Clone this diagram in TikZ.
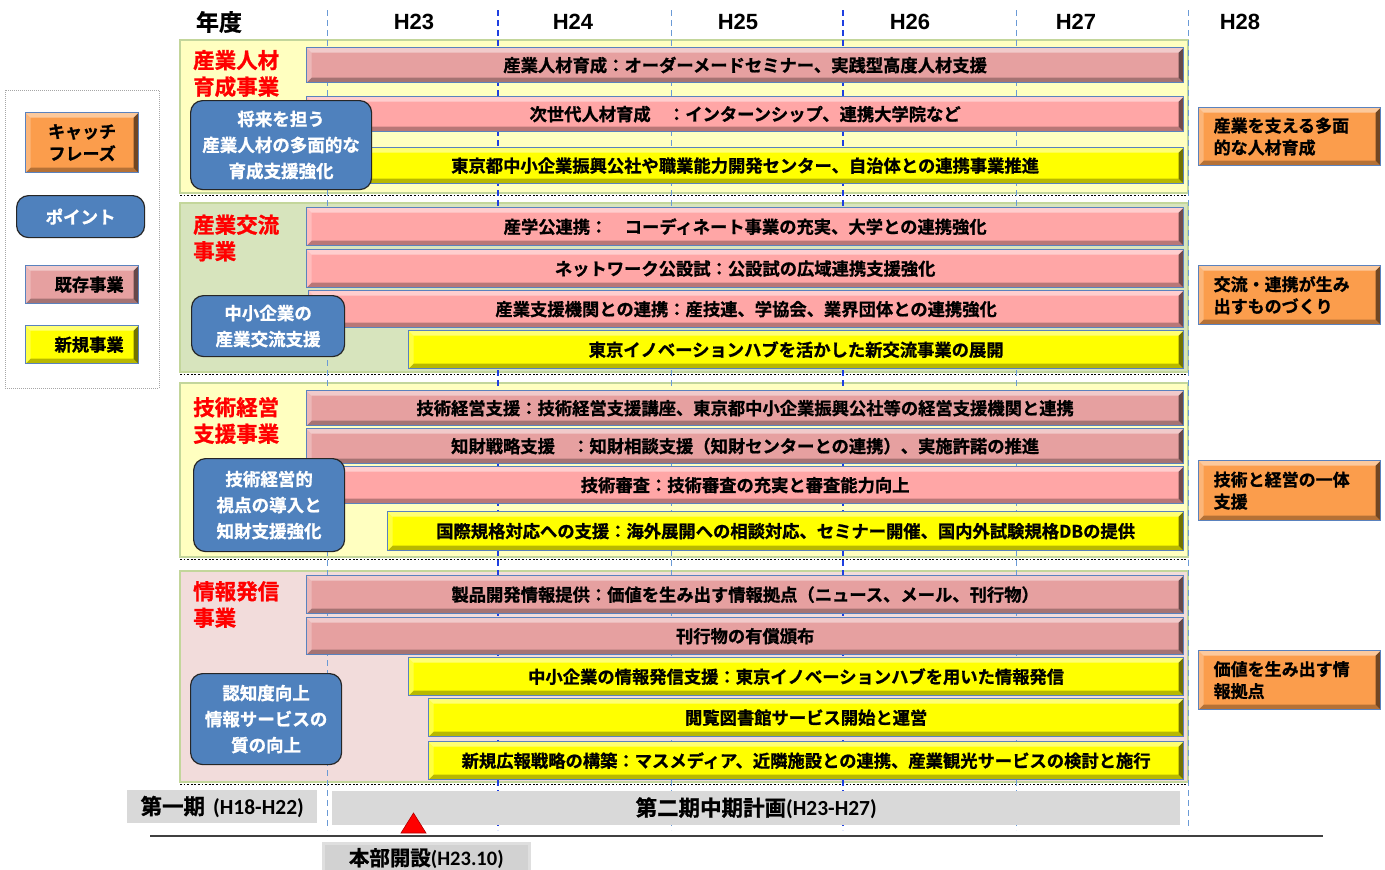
\documentclass[tikz,border=0pt]{standalone}
\usepackage{fontspec}
\newfontfamily\jp{Noto Sans CJK JP}[BoldFont={Noto Sans CJK JP Bold}, BoldFeatures={FakeBold=1}]
\newfontfamily\arfont{Liberation Sans}
\newfontfamily\calfont{Carlito}
\usetikzlibrary{calc}
\definecolor{pinkD}{HTML}{E6A0A0}
\definecolor{pinkL}{HTML}{FFA6A6}
\definecolor{yel}{HTML}{FFFF00}
\definecolor{barblue}{HTML}{5A82BE}
\definecolor{ptblue}{HTML}{4F81BD}
\definecolor{orng}{HTML}{FB9D4C}
\definecolor{panY}{HTML}{FFFFC0}
\definecolor{panG}{HTML}{D7E4BD}
\definecolor{panP}{HTML}{F2DCDB}
\definecolor{panEdge}{HTML}{C3D69B}
\definecolor{gridL}{HTML}{6A9AD6}
\definecolor{gridD}{HTML}{1F3FE0}
\definecolor{grayB}{HTML}{D9D9D9}
\newcommand\barnode[7]{\node[#6, minimum width={(#4-#2)*1pt}, minimum height={(#5-#3)*1pt}] (#1) at (#2,#3) {#7};}
\tikzset{
  bevel/.style={path picture={
    \fill[white,opacity=.45] (path picture bounding box.north west) -- (path picture bounding box.north east)
      -- ([shift={(-5,5)}]path picture bounding box.north east) -- ([shift={(5,5)}]path picture bounding box.north west) -- cycle;
    \fill[white,opacity=.25] (path picture bounding box.north west) -- ([shift={(5,5)}]path picture bounding box.north west)
      -- ([shift={(5,-5)}]path picture bounding box.south west) -- (path picture bounding box.south west) -- cycle;
    \fill[black,opacity=.28] (path picture bounding box.south west) -- (path picture bounding box.south east)
      -- ([shift={(-5,-5)}]path picture bounding box.south east) -- ([shift={(5,-5)}]path picture bounding box.south west) -- cycle;
    \fill[black,opacity=.55] (path picture bounding box.north east) -- (path picture bounding box.south east)
      -- ([shift={(-5,-5)}]path picture bounding box.south east) -- ([shift={(-5,5)}]path picture bounding box.north east) -- cycle;
  }},
  barbase/.style={draw=barblue, line width=1.3pt, anchor=north west, inner sep=0pt, bevel,
    font=\jp\bfseries\fontsize{17.3}{18}\selectfont, text=black},
  oldbar/.style={barbase, fill=pinkD},
  oldbarlt/.style={barbase, fill=pinkL},
  newbar/.style={barbase, fill=yel},
  catchbox/.style={barbase, fill=orng, align=left, text width=152pt,
    font=\jp\bfseries\fontsize{17}{22}\selectfont},
  ptbox/.style={rounded corners=12pt, fill=ptblue, draw=black!85, line width=1.2pt, text=white,
    align=center, anchor=north west, inner sep=0pt, font=\jp\bfseries\fontsize{17.5}{26}\selectfont},
  sectitle/.style={text=red, anchor=west, align=left, inner sep=0pt,
    font=\jp\bfseries\fontsize{21.5}{26.5}\selectfont},
  yearlbl/.style={font=\arfont\bfseries\fontsize{22}{24}\selectfont, inner sep=0pt},
  panel/.style={draw=panEdge, line width=1.2pt},
  chk/.style={black, line width=1.8pt, dash pattern=on 1.8pt off 1.8pt},
  gridlt/.style={gridL, line width=1pt, dash pattern=on 6pt off 4pt},
  griddk/.style={gridD, line width=1.2pt, dash pattern=on 6pt off 4pt},
  graybox/.style={fill=grayB, anchor=north west, inner sep=0pt, font=\bfseries\fontsize{21.5}{22}\selectfont}
}
\begin{document}
\begin{tikzpicture}[x=1pt,y=-1pt]
\useasboundingbox (0,0) rectangle (1385,870);
\fill[white] (0,0) rectangle (1385,870);

% header
\node[font=\jp\bfseries\fontsize{23}{25}\selectfont, inner sep=0pt] (nendo) at (219,22) {年度};
\node[yearlbl] (h23) at (414,22) {H23};
\node[yearlbl] (h24) at (573,22) {H24};
\node[yearlbl] (h25) at (738,22) {H25};
\node[yearlbl] (h26) at (910,22) {H26};
\node[yearlbl] (h27) at (1076,22) {H27};
\node[yearlbl] (h28) at (1240,22) {H28};

% panels
\draw[panel, fill=panY] (180,40) rectangle (1188,193);
\draw[chk] (180,195.5) -- (1188,195.5);
\draw[panel, fill=panG] (180,203) rectangle (1188,372);
\draw[chk] (180,374.5) -- (1188,374.5);
\draw[panel, fill=panY] (180,383) rectangle (1188,557);
\draw[chk] (180,559.5) -- (1188,559.5);
\draw[panel, fill=panP] (180,571) rectangle (1188,782);
\draw[chk] (180,784.5) -- (1188,784.5);

% grid lines
\draw[gridlt] (327,10) -- (327,830);
\draw[griddk] (498,10) -- (498,830);
\draw[gridlt] (671,10) -- (671,830);
\draw[griddk] (843,10) -- (843,830);
\draw[gridlt] (1016,10) -- (1016,830);
\draw[gridlt] (1188,10) -- (1188,830);

% section 1
\node[sectitle] (t1) at (193,73.5) {産業人材\\育成事業};
\barnode{b11}{306}{47}{1183}{82}{oldbar}{産業人材育成：オーダーメードセミナー、実践型高度人材支援}
\barnode{b12}{306}{96}{1183}{131}{oldbarlt}{次世代人材育成　：インターンシップ、連携大学院など}
\barnode{b13}{306}{147}{1183}{183}{newbar}{東京都中小企業振興公社や職業能力開発センター、自治体との連携事業推進}
\node[ptbox, minimum width=181pt, minimum height=89pt] (p1) at (190,100) {将来を担う\\産業人材の多面的な\\育成支援強化};
\node[catchbox, minimum width=182pt, minimum height=58pt] (c1) at (1198,107) {産業を支える多面\\的な人材育成};

% section 2
\node[sectitle] (t2) at (193,238) {産業交流\\事業};
\barnode{b21}{306}{207}{1183}{245}{oldbarlt}{産学公連携：　コーディネート事業の充実、大学との連携強化}
\barnode{b22}{306}{249}{1183}{287}{oldbarlt}{ネットワーク公設試：公設試の広域連携支援強化}
\barnode{b23}{308}{290}{1183}{327}{oldbarlt}{産業支援機関との連携：産技連、学協会、業界団体との連携強化}
\barnode{b24}{408}{330}{1183}{368}{newbar}{東京イノベーションハブを活かした新交流事業の展開}
\node[ptbox, minimum width=153pt, minimum height=61pt] (p2) at (191,295) {中小企業の\\産業交流支援};
\node[catchbox, minimum width=182pt, minimum height=59pt] (c2) at (1198,265) {交流・連携が生み\\出すものづくり};

% section 3
\node[sectitle] (t3) at (193,420.5) {技術経営\\支援事業};
\barnode{b31}{306}{390}{1183}{425}{oldbar}{技術経営支援：技術経営支援講座、東京都中小企業振興公社等の経営支援機関と連携}
\barnode{b32}{306}{428}{1183}{463}{oldbar}{知財戦略支援　：知財相談支援（知財センターとの連携）、実施許諾の推進}
\barnode{b33}{306}{466}{1183}{503}{oldbarlt}{技術審査：技術審査の充実と審査能力向上}
\barnode{b34}{387}{511}{1183}{550}{newbar}{国際規格対応への支援：海外展開への相談対応、セミナー開催、国内外試験規格DBの提供}
\node[ptbox, minimum width=151pt, minimum height=93pt] (p3) at (193,458) {技術経営的\\視点の導入と\\知財支援強化};
\node[catchbox, minimum width=182pt, minimum height=60pt] (c3) at (1198,460) {技術と経営の一体\\支援};

% section 4
\node[sectitle] (t4) at (193,604.5) {情報発信\\事業};
\barnode{b41}{306}{575}{1183}{613}{oldbar}{製品開発情報提供：価値を生み出す情報拠点（ニュース、メール、刊行物）}
\barnode{b42}{306}{617}{1183}{654}{oldbar}{刊行物の有償頒布}
\barnode{b43}{408}{657}{1183}{695}{newbar}{中小企業の情報発信支援：東京イノベーションハブを用いた情報発信}
\barnode{b44}{428}{698}{1183}{736}{newbar}{閲覧図書館サービス開始と運営}
\barnode{b45}{428}{741}{1183}{779}{newbar}{新規広報戦略の構築：マスメディア、近隣施設との連携、産業観光サービスの検討と施行}
\node[ptbox, minimum width=151pt, minimum height=91pt] (p4) at (190,673) {認知度向上\\情報サービスの\\質の向上};
\node[catchbox, minimum width=182pt, minimum height=59pt] (c4) at (1198,650) {価値を生み出す情\\報拠点};

% legend
\draw[gray!70, line width=1pt, densely dotted] (5,90) rectangle (159,388);
\node[catchbox, align=center, text width=110pt, minimum width=113pt, minimum height=60pt] (lg1) at (25,112) {キャッチ\\フレーズ};
\node[ptbox, minimum width=128pt, minimum height=42pt] (lg2) at (16,195) {ポイント};
\barnode{lg3}{25}{265}{138}{303}{oldbar}{\hspace*{14pt}既存事業}
\barnode{lg4}{25}{325}{138}{363}{newbar}{\hspace*{14pt}新規事業}

% bottom
\node[graybox, minimum width=190pt, minimum height=33pt] (ph1) at (127,790) {{\jp 第一期} {\calfont (H18-H22)}};
\node[graybox, minimum width=848pt, minimum height=34pt] (ph2) at (332,791) {{\jp 第二期中期計画}{\calfont (H23-H27)}};
\draw[black!75, line width=1.5pt] (150,836) -- (1323,836);
\fill[red, draw=red!70!black, line width=0.6pt] (401,833) -- (426,833) -- (413.5,813) -- cycle;
\node[graybox, fill=gray!35, draw=gray!25, line width=2.5pt, minimum width=206pt, minimum height=30pt, font=\bfseries\fontsize{20.5}{21}\selectfont] (hq) at (322,842) {{\jp 本部開設}{\calfont (H23.10)}};
\end{tikzpicture}
\end{document}
